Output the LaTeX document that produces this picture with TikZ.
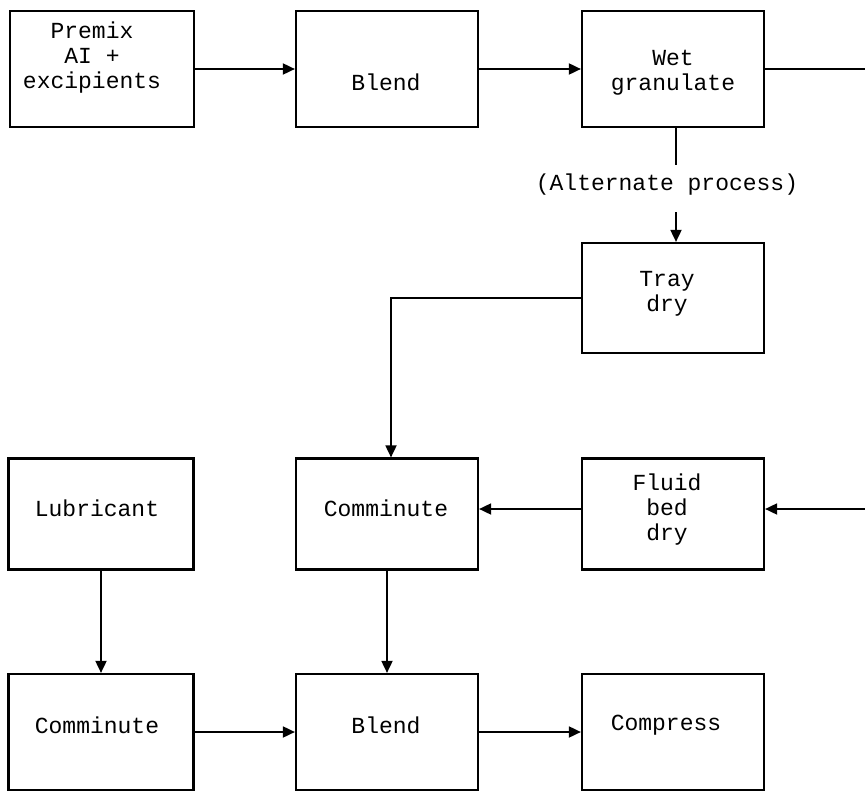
\documentclass[tikz,border=0pt]{standalone}
\usepackage{fontspec}
\setmainfont{Liberation Mono}
\usetikzlibrary{arrows.meta}
\begin{document}
\begin{tikzpicture}[x=1pt,y=-1pt,
  box/.style={draw,line width=2.2pt,minimum width=182pt,minimum height=114pt,inner sep=0pt},
  txt/.style={font=\fontsize{23}{25}\selectfont,align=center,inner sep=0pt},
  flow/.style={line width=1.8pt,-{Triangle[length=12pt,width=11pt]}},
  plain/.style={line width=1.8pt}]
\useasboundingbox (0,0) rectangle (865,792);
% boxes
\node[box,minimum width=184pt,minimum height=116pt] (premix) at (102,69) {};
\node[box,minimum height=116pt] (blendA) at (387,69) {};
\node[box,minimum height=116pt] (wet) at (673,69) {};
\node[box,minimum height=110pt] (tray) at (673,298) {};
\node[box,minimum width=185pt,minimum height=111pt] (lub) at (101,514) {};
\node[box,minimum height=111pt] (commA) at (387,514) {};
\node[box,minimum height=111pt] (fluid) at (673,514) {};
\node[box,minimum width=185pt,minimum height=116pt] (commB) at (101,732) {};
\node[box,minimum height=116pt] (blendB) at (387,732) {};
\node[box,minimum height=116pt] (compress) at (673,732) {};
% texts
\node[txt] (tpremix) at (92,57.5) {Premix\\AI +\\excipients};
\node[txt] (tblendA) at (386,82) {Blend};
\node[txt] (twet) at (673,72.5) {Wet\\granulate};
\node[txt] (ttray) at (667,293.5) {Tray\\dry};
\node[txt] (tlub) at (97,508) {Lubricant};
\node[txt] (tcommA) at (386,508) {Comminute};
\node[txt] (tfluid) at (667,510) {Fluid\\bed\\dry};
\node[txt] (tcommB) at (97,725) {Comminute};
\node[txt] (tblendB) at (386,725) {Blend};
\node[txt] (tcompress) at (666,725) {Compress};
\node[txt] (alt) at (667,185) {(Alternate process)};
% connectors
\draw[flow] (premix) -- (blendA);
\draw[flow] (blendA) -- (wet);
\coordinate (rt) at (865,69);
\draw[plain] (wet.east) -- (rt);
\coordinate (rb) at (865,509);
\draw[flow] (rb) -- (rb -| fluid.east);
\coordinate (a1) at (676,165);
\draw[plain] (wet.south -| a1) -- (a1);
\coordinate (a2) at (676,212);
\draw[flow] (a2) -- (a2 |- tray.north);
\draw[flow] (tray.west) -| ([xshift=4pt]commA.north);
\draw[flow] ([yshift=5pt]fluid.west) -- ([yshift=5pt]fluid.west -| commA.east);
\draw[flow] (commA) -- (blendB);
\draw[flow] (lub) -- (commB);
\draw[flow] (commB) -- (blendB);
\draw[flow] (blendB) -- (compress);
\end{tikzpicture}
\end{document}
